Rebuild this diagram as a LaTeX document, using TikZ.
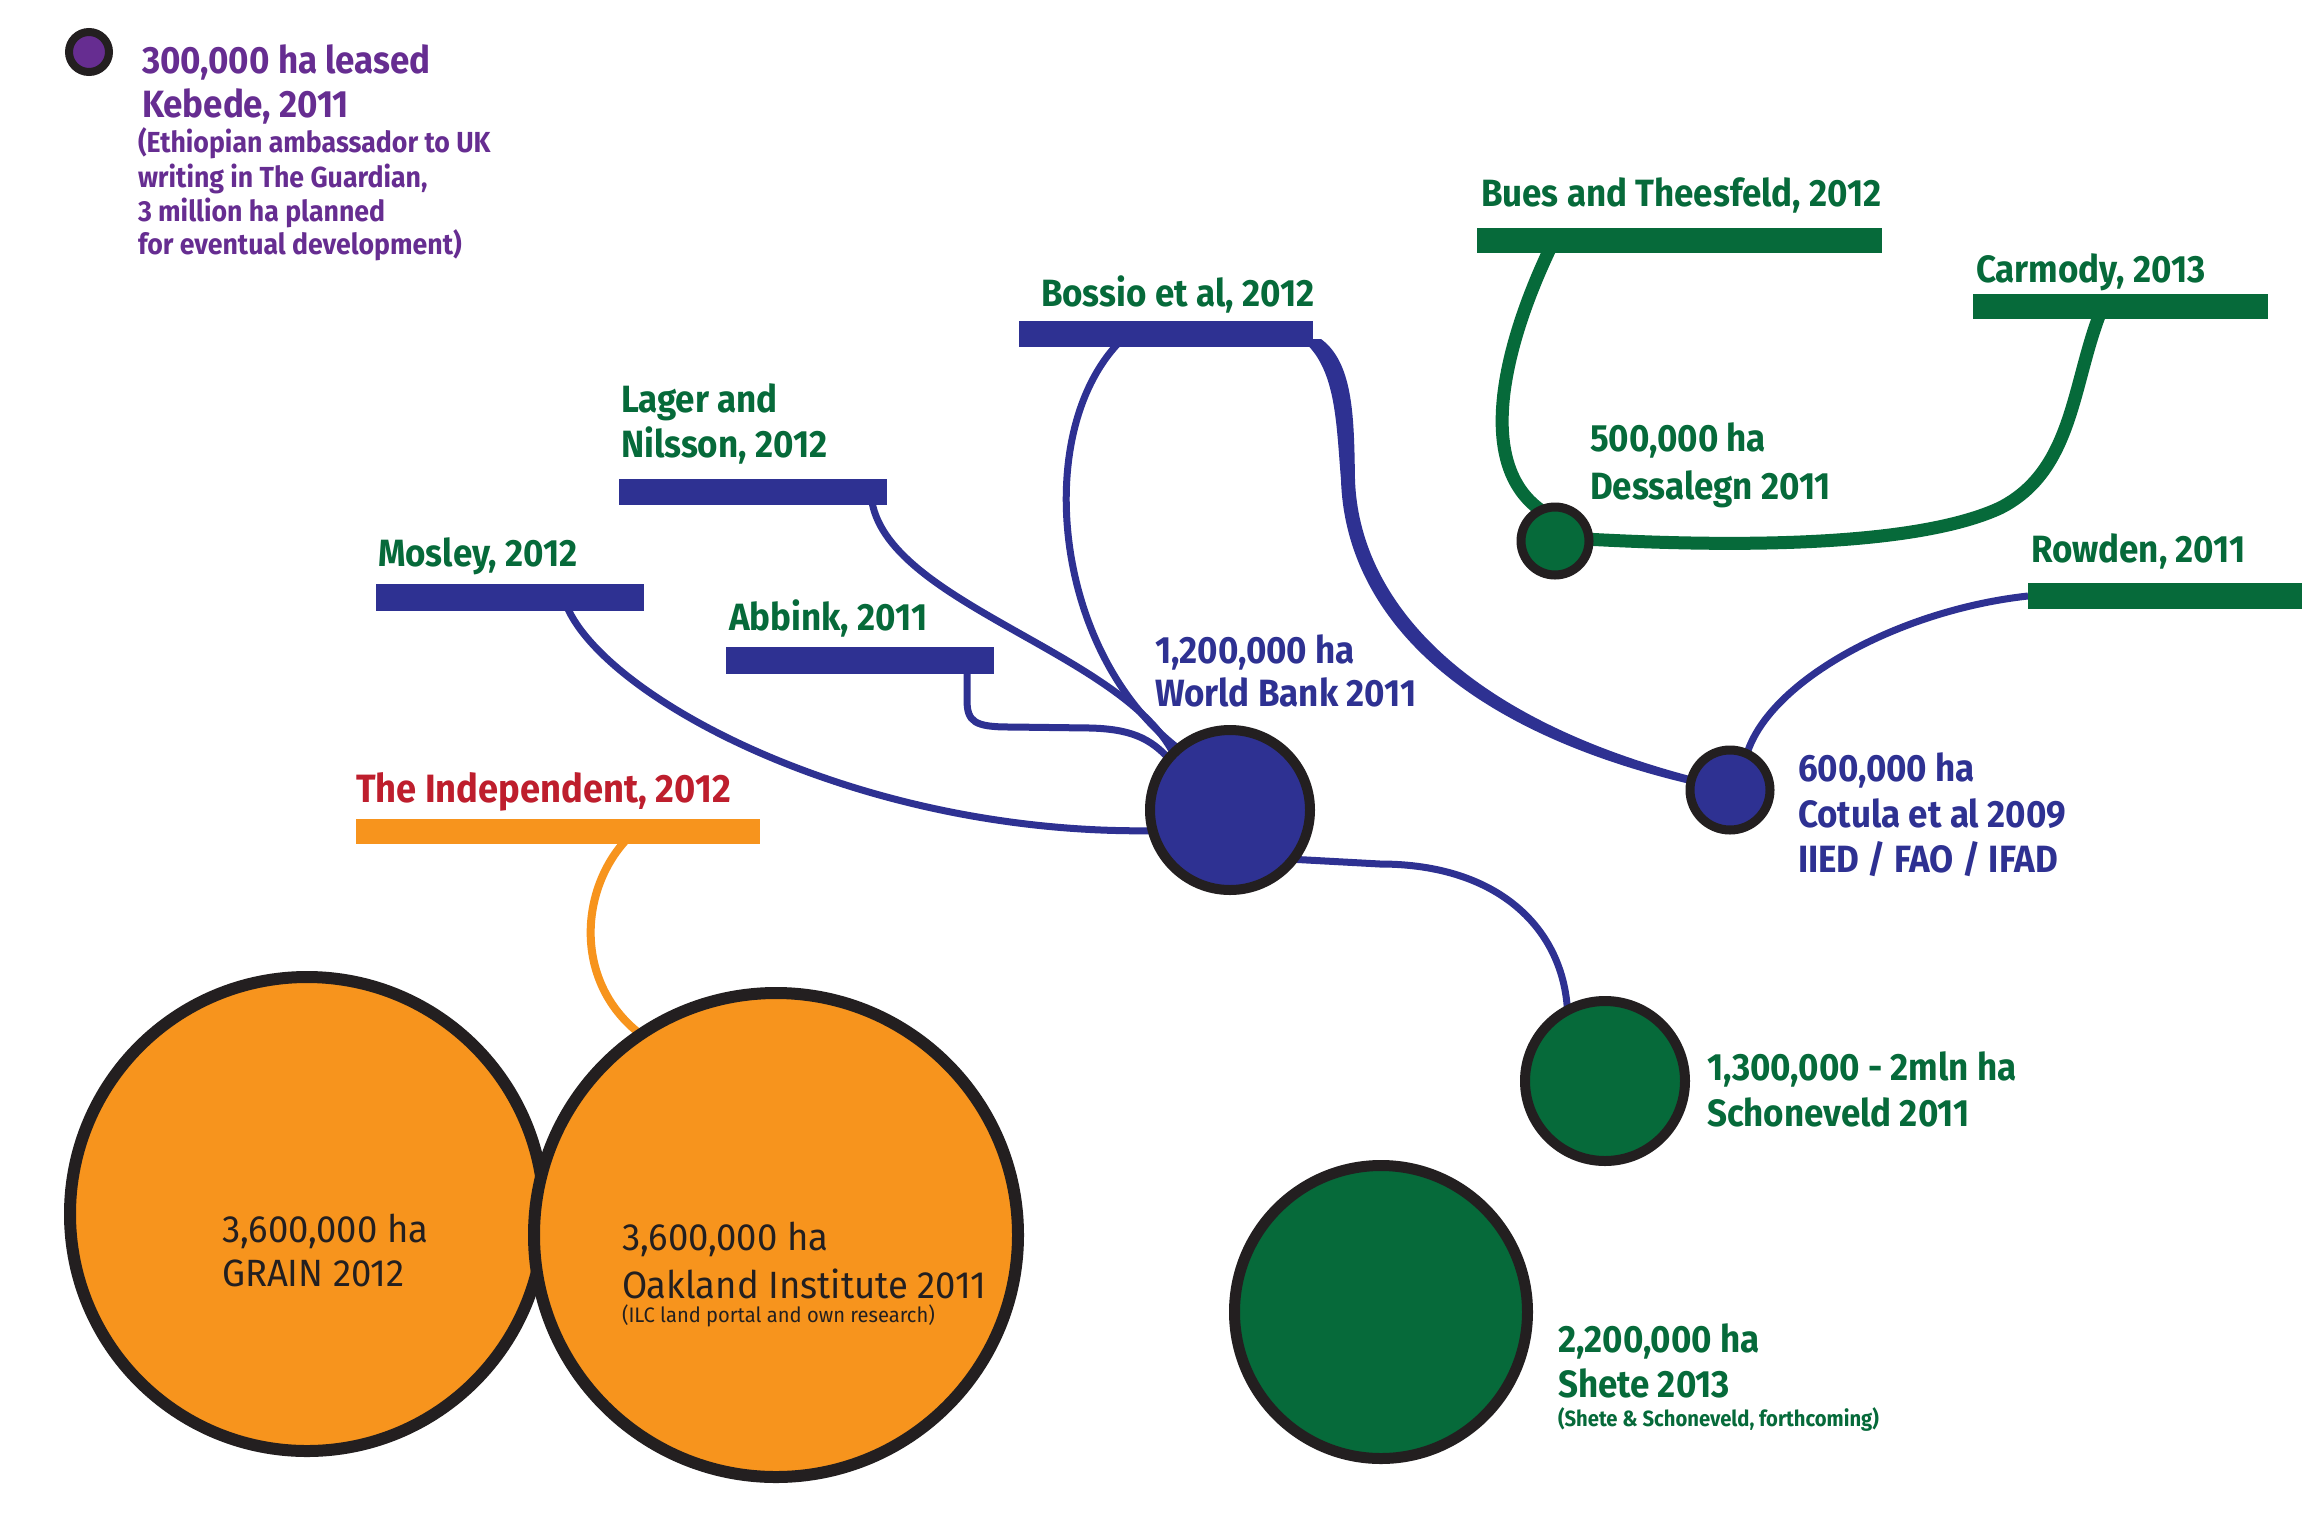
\documentclass[tikz,border=0pt]{standalone}
\usepackage{fontspec}
\usetikzlibrary{calc}
\newfontfamily\lbb{Fira Sans}[FakeStretch=0.92]
\newfontfamily\lbr{Fira Sans}[FakeStretch=0.96]
\definecolor{cblue}{HTML}{2E3192}
\definecolor{cgreen}{HTML}{066A3A}
\definecolor{corange}{HTML}{F7941D}
\definecolor{cpurple}{HTML}{662D91}
\definecolor{cred}{HTML}{BE1E2D}
\definecolor{cdark}{HTML}{231F20}
\pgfdeclarelayer{links}
\pgfsetlayers{links,main}
\begin{document}
\begin{tikzpicture}[x=1pt,y=-1pt,
  bar/.style={rectangle,inner sep=0pt,outer sep=0pt,draw=none},
  blob/.style={circle,inner sep=0pt,outer sep=0pt,draw=cdark},
  lab/.style={anchor=base west,inner sep=0pt,outer sep=0pt,font=\lbb\bfseries\fontsize{38}{40}\selectfont},
  plab/.style={anchor=base west,inner sep=0pt,outer sep=0pt,text=cpurple,font=\lbb\bfseries\fontsize{29}{31}\selectfont},
  labs/.style={anchor=base west,inner sep=0pt,outer sep=0pt,font=\lbb\bfseries\fontsize{22}{24}\selectfont},
  olab/.style={anchor=base west,inner sep=0pt,outer sep=0pt,text=cdark,font=\lbr\fontsize{38}{40}\selectfont},
  olabs/.style={anchor=base west,inner sep=0pt,outer sep=0pt,text=cdark,font=\lbr\fontsize{21}{23}\selectfont},
  blueln/.style={draw=cblue,line width=7pt},
  greenln/.style={draw=cgreen,line width=13pt},
  orangeln/.style={draw=corange,line width=8pt}
]
\useasboundingbox (0,0) rectangle (2305,1537);

% bars
\node[bar,fill=cgreen,minimum width=405pt,minimum height=25pt] (bues) at (1679.5,240.5) {};
\node[bar,fill=cgreen,minimum width=295pt,minimum height=25pt] (carm) at (2120.5,306.5) {};
\node[bar,fill=cgreen,minimum width=274pt,minimum height=26pt] (rowden) at (2165,596) {};
\node[bar,fill=cblue,minimum width=294pt,minimum height=26pt] (boss) at (1166,334) {};
\node[bar,fill=cblue,minimum width=268pt,minimum height=26pt] (lager) at (753,492) {};
\node[bar,fill=cblue,minimum width=268pt,minimum height=27pt] (mosley) at (510,597.5) {};
\node[bar,fill=cblue,minimum width=268pt,minimum height=27pt] (abbink) at (860,660.5) {};
\node[bar,fill=corange,minimum width=404pt,minimum height=25pt] (indep) at (558,831.5) {};

% circles
\node[blob,fill=cpurple,line width=8pt,minimum size=40pt] (pur) at (89,52) {};
\node[blob,fill=cblue,line width=10pt,minimum size=160pt] (wb) at (1230,810) {};
\node[blob,fill=cblue,line width=9pt,minimum size=80pt] (cot) at (1730,790) {};
\node[blob,fill=cgreen,line width=9pt,minimum size=68pt] (des) at (1555,541) {};
\node[blob,fill=cgreen,line width=10pt,minimum size=160pt] (sch) at (1605,1081) {};
\node[blob,fill=cgreen,line width=11pt,minimum size=293pt] (shete) at (1381,1312) {};
\node[blob,fill=corange,line width=12pt,minimum size=474pt] (grain) at (307,1214) {};
\node[blob,fill=corange,line width=12pt,minimum size=484pt] (oak) at (776,1235) {};

% background and connectors, on the layer below bars and circles
\begin{pgfonlayer}{links}
\fill[white] (0,0) rectangle (2305,1537);
\draw[blueln] ($(mosley.west)!0.70!(mosley.east)$) .. controls (590,690) and (850,835) .. (wb.195);
\draw[blueln] ($(lager.west)!0.94!(lager.east)$) .. controls (875,600) and (1120,650) .. (wb.135);
\draw[blueln] ($(abbink.west)!0.9!(abbink.east)$) -- (967,700) .. controls (967,722) and (975,727) .. (1010,727) -- (1090,728) .. controls (1130,729) and (1150,738) .. (wb.140);
\draw[blueln] ($(boss.west)!0.37!(boss.east)$) .. controls (1030,420) and (1050,650) .. (wb.130);
\draw[blueln] (wb.-38) -- (1380,864) .. controls (1500,864) and (1563,930) .. (sch.118);
\draw[blueln] (rowden.west) .. controls (1900,610) and (1770,680) .. (cot.65);
\fill[cblue] ($(boss.south east)+(-12,-8)$) .. controls (1336,367) and (1336,420) .. (1341,480) .. controls (1345,605) and (1445,726) .. ($(cot.166)+(0,4)$) -- ($(cot.166)+(0,-4)$) .. controls (1455,714) and (1359,595) .. (1355,480) .. controls (1354,420) and (1354,363) .. ($(boss.south east)+(8,-8)$) -- cycle;
\draw[greenln] ($(bues.west)!0.19!(bues.east)$) .. controls (1510,330) and (1470,460) .. (des.115);
\draw[greenln] ($(carm.west)!0.44!(carm.east)$) .. controls (2072,380) and (2075,470) .. (2000,508) .. controls (1920,545) and (1750,548) .. (des.3);
\draw[orangeln] ($(indep.west)!0.69!(indep.east)$) .. controls (580,880) and (570,980) .. (oak.124);
\end{pgfonlayer}

% purple text
\node[lab,text=cpurple] (p1) at (142,73) {300,000 ha leased};
\node[lab,text=cpurple] (p2) at (142,117) {Kebede, 2011};
\node[plab] (p3) at (138,152) {(Ethiopian ambassador to UK};
\node[plab] (p4) at (138,187) {writing in The Guardian,};
\node[plab] (p5) at (138,221) {3 million ha planned};
\node[plab] (p6) at (138,254) {for eventual development)};

% green labels
\node[lab,text=cgreen] (t1) at (1481,206) {Bues and Theesfeld, 2012};
\node[lab,text=cgreen] (t2) at (1976,282) {Carmody, 2013};
\node[lab,text=cgreen] (t3) at (1590,451) {500,000 ha};
\node[lab,text=cgreen] (t4) at (1590,499) {Dessalegn 2011};
\node[lab,text=cgreen] (t5) at (2031,562) {Rowden, 2011};
\node[lab,text=cgreen] (t6) at (1041,306) {Bossio et al, 2012};
\node[lab,text=cgreen] (t7) at (621,412) {Lager and};
\node[lab,text=cgreen] (t8) at (621,457) {Nilsson, 2012};
\node[lab,text=cgreen] (t9) at (378,566) {Mosley, 2012};
\node[lab,text=cgreen] (t10) at (729,630) {Abbink, 2011};
\node[lab,text=cgreen] (t11) at (1707,1080) {1,300,000 - 2mln ha};
\node[lab,text=cgreen] (t12) at (1707,1126) {Schoneveld 2011};
\node[lab,text=cgreen] (t13) at (1558,1352) {2,200,000 ha};
\node[lab,text=cgreen] (t14) at (1558,1397) {Shete 2013};
\node[labs,text=cgreen] (t15) at (1558,1426) {(Shete \& Schoneveld, forthcoming)};

% blue labels
\node[lab,text=cblue] (b1) at (1155,663) {1,200,000 ha};
\node[lab,text=cblue] (b2) at (1155,706) {World Bank 2011};
\node[lab,text=cblue] (b3) at (1798,781) {600,000 ha};
\node[lab,text=cblue] (b4) at (1798,827) {Cotula et al 2009};
\node[lab,text=cblue] (b5) at (1798,872) {IIED / FAO / IFAD};

% red label
\node[lab,text=cred,font=\lbb\bfseries\fontsize{39.5}{41}\selectfont] (r1) at (356,802) {The Independent, 2012};

% orange circle texts
\node[olab] (g1) at (222,1242) {3,600,000 ha};
\node[olab] (g2) at (222,1286) {GRAIN 2012};
\node[olab] (o1) at (622,1250) {3,600,000 ha};
\node[olab] (o2) at (622,1298) {Oakland Institute 2011};
\node[olabs] (o3) at (622,1322) {(ILC land portal and own research)};
\end{tikzpicture}
\end{document}
